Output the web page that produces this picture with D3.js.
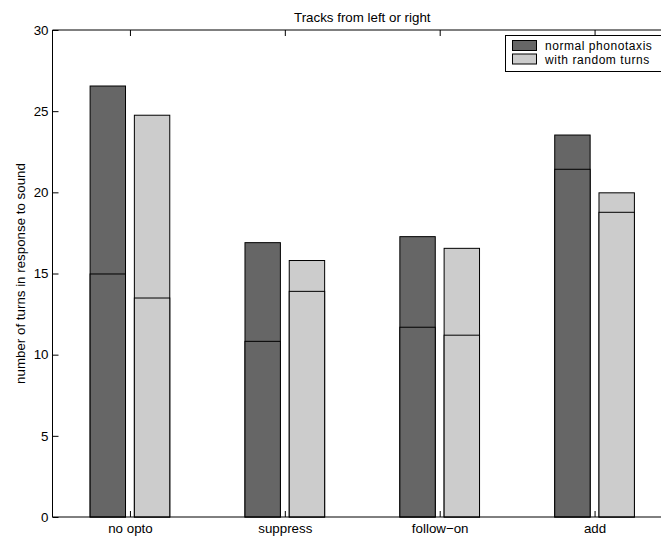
<!DOCTYPE html>
<html><head><meta charset="utf-8">
<script src="https://cdn.jsdelivr.net/npm/d3@7"></script>
<style>
html,body{margin:0;padding:0;background:#fff;overflow:hidden}
text{font-family:"Liberation Sans",Arial,Helvetica,sans-serif;fill:#000}
</style></head>
<body><svg id="c" width="661" height="540"></svg>
<script>
const categories = ["no opto", "suppress", "follow\u2212on", "add"];
const seriesNames = ["normal phonotaxis", "with random turns"];
const normalTotal = [26.55, 16.9, 17.27, 23.53];
const normalBase  = [14.97, 10.82, 11.69, 21.42];
const randomTotal = [24.75, 15.8, 16.55, 19.97];
const randomBase  = [13.49, 13.9, 11.2, 18.77];
const yTicks = [0, 5, 10, 15, 20, 25, 30];
const colors = ["#666666", "#cccccc"];

const FS = "13.33px";
const svg = d3.select("#c");
const L = 52.5, R = 672, T = 30, B = 517;
const x = d3.scaleLinear().domain([0.5, 4.5]).range([L, R]);
const y = d3.scaleLinear().domain([0, 30]).range([B, T]);

const barW = 0.2286, offs = [-0.1429, 0.1429];
const series = [
  {tot: normalTotal, base: normalBase},
  {tot: randomTotal, base: randomBase}
];
const g = svg.append("g");
series.forEach((s, si) => {
  categories.forEach((c, i) => {
    const cx = i + 1 + offs[si];
    const x0 = x(cx - barW / 2), x1 = x(cx + barW / 2);
    g.append("rect").attr("x", x0).attr("y", y(s.tot[i]))
      .attr("width", x1 - x0).attr("height", y(0) - y(s.tot[i]))
      .attr("fill", colors[si]).attr("stroke", "#000").attr("stroke-width", 1);
    g.append("rect").attr("x", x0).attr("y", y(s.base[i]))
      .attr("width", x1 - x0).attr("height", y(0) - y(s.base[i]))
      .attr("fill", colors[si]).attr("stroke", "#000").attr("stroke-width", 1);
  });
});

// axes box
const ax = svg.append("g");
ax.append("line").attr("x1", L).attr("x2", R).attr("y1", T).attr("y2", T).attr("stroke", "#000");
ax.append("line").attr("x1", L).attr("x2", R).attr("y1", B).attr("y2", B).attr("stroke", "#000");
ax.append("line").attr("x1", L).attr("x2", L).attr("y1", T).attr("y2", B).attr("stroke", "#000");

// y axis (ticks inward)
const yAxis = d3.axisLeft(y).tickValues(yTicks).tickSize(-6).tickPadding(4).tickFormat(d3.format("d"));
const yg = svg.append("g").attr("transform", `translate(${L},0)`).call(yAxis);
yg.select(".domain").remove();
yg.selectAll("text").style("font-size", FS).attr("fill", "#000");

// x axis bottom (ticks inward)
const xVals = categories.map((c, i) => i + 1);
const xAxis = d3.axisBottom(x).tickValues(xVals).tickSize(-6).tickPadding(7)
  .tickFormat((d) => categories[d - 1]);
const xg = svg.append("g").attr("transform", `translate(0,${B})`).call(xAxis);
xg.select(".domain").remove();
xg.selectAll("text").style("font-size", FS).attr("fill", "#000");

// top ticks
const xTop = d3.axisTop(x).tickValues(xVals).tickSize(-6).tickFormat("");
const xt = svg.append("g").attr("transform", `translate(0,${T})`).call(xTop);
xt.select(".domain").remove();

// title
svg.append("text").attr("x", (L + R) / 2).attr("y", 22).attr("text-anchor", "middle")
  .style("font-size", FS).text("Tracks from left or right");

// y label
svg.append("text").attr("transform", `translate(25,${(T + B) / 2}) rotate(-90)`)
  .attr("text-anchor", "middle").style("font-size", FS)
  .text("number of turns in response to sound");

// legend
const lg = svg.append("g");
lg.append("rect").attr("x", 505.5).attr("y", 35.5).attr("width", 160).attr("height", 36)
  .attr("fill", "#fff").attr("stroke", "#000");
seriesNames.forEach((n, i) => {
  lg.append("rect").attr("x", 512.5).attr("y", 40.5 + i * 13.5).attr("width", 24).attr("height", 10)
    .attr("fill", colors[i]).attr("stroke", "#000");
  lg.append("text").attr("x", 545).attr("y", 50 + i * 13.5).style("font-size", "12px")
    .style("letter-spacing", "0.55px").text(n);
});
</script></body></html>
